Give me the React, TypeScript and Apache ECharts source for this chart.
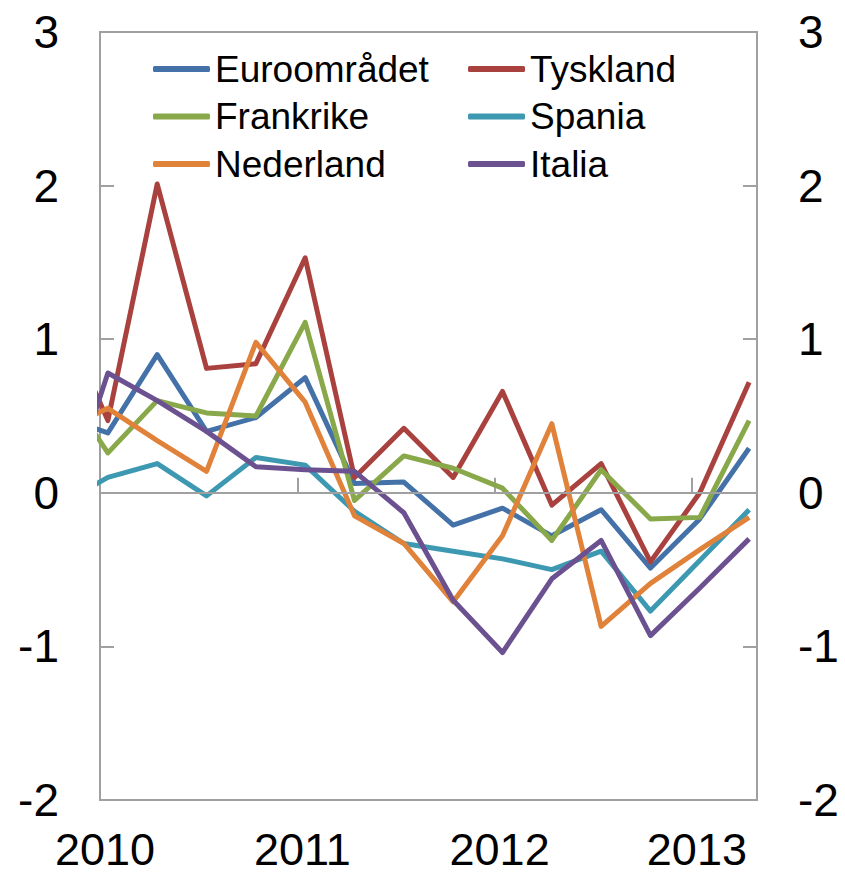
import React, { useEffect, useRef } from "react";
import * as echarts from "echarts";

// Quarters (K = kvartal). 2009K4 lies just left of the axis start and is clipped.
const quarters = [
  "2009K4",
  "2010K1", "2010K2", "2010K3", "2010K4",
  "2011K1", "2011K2", "2011K3", "2011K4",
  "2012K1", "2012K2", "2012K3", "2012K4",
  "2013K1", "2013K2",
];

const euroomradet = [0.5, 0.39, 0.9, 0.4, 0.49, 0.75, 0.06, 0.07, -0.21, -0.1, -0.28, -0.11, -0.49, -0.17, 0.29];
const tyskland = [1.2, 0.47, 2.01, 0.81, 0.84, 1.53, 0.1, 0.42, 0.1, 0.66, -0.08, 0.19, -0.45, 0.0, 0.72];
const frankrike = [0.74, 0.26, 0.6, 0.52, 0.5, 1.11, -0.05, 0.24, 0.16, 0.03, -0.31, 0.15, -0.17, -0.16, 0.47];
const spania = [-0.08, 0.1, 0.19, -0.02, 0.23, 0.18, -0.12, -0.33, -0.38, -0.43, -0.5, -0.38, -0.77, -0.44, -0.11];
const nederland = [0.4, 0.55, 0.34, 0.14, 0.98, 0.59, -0.15, -0.33, -0.71, -0.28, 0.45, -0.87, -0.59, -0.37, -0.16];
const italia = [-0.2, 0.78, 0.6, 0.4, 0.17, 0.15, 0.14, -0.13, -0.7, -1.04, -0.56, -0.31, -0.93, -0.62, -0.3];

const yearTicks = [2010, 2011, 2012, 2013];
const yTicks = [-2, -1, 0, 1, 2, 3];

const seriesNames = ["Euroområdet", "Tyskland", "Frankrike", "Spania", "Nederland", "Italia"];
const seriesValues = [euroomradet, tyskland, frankrike, spania, nederland, italia];
const seriesColors = ["#4472A8", "#A9423F", "#88A84A", "#3D99B2", "#E0823A", "#6C5191"];

const FONT = '"Liberation Sans", Arial, sans-serif';
const GRAY = "#a0a0a0";

// decimal-year position of each quarter's observation (mid-first-month of quarter)
function quarterPos(q: string): number {
  const year = Number(q.slice(0, 4));
  const k = Number(q.slice(5));
  return year + (k - 1) / 4 + 0.04;
}

export default function App() {
  const ref = useRef<HTMLDivElement>(null);

  useEffect(() => {
    if (!ref.current) return;
    const chart = echarts.init(ref.current, undefined, { renderer: "svg" });
    const xs = quarters.map(quarterPos);

    const yAxisBase = {
      type: "value" as const,
      min: yTicks[0],
      max: yTicks[yTicks.length - 1],
      interval: 1,
      splitLine: { show: false },
      axisLine: { show: true, lineStyle: { color: GRAY, width: 2 } },
      axisTick: { show: true, inside: true, length: 14, lineStyle: { color: GRAY, width: 2 } },
      axisLabel: { fontSize: 46, color: "#000", fontFamily: FONT, margin: 41 },
    };

    const legendBase = {
      orient: "vertical",
      top: 49,
      padding: 0,
      itemWidth: 57,
      itemHeight: 6,
      itemGap: 7.5,
      icon: "roundRect",
      itemStyle: { borderWidth: 0 },
      textStyle: { fontSize: 37, lineHeight: 40, color: "#000", fontFamily: FONT },
      selectedMode: false,
    };

    const option: any = {
      animation: false,
      backgroundColor: "#fff",
      grid: {
        left: 100,
        right: 88,
        top: 32,
        bottom: 76,
        show: true,
        borderColor: GRAY,
        borderWidth: 2,
        containLabel: false,
      },
      legend: [
        { ...legendBase, data: [seriesNames[0], seriesNames[2], seriesNames[4]], left: 153 },
        { ...legendBase, data: [seriesNames[1], seriesNames[3], seriesNames[5]], left: 468 },
      ],
      xAxis: {
        type: "value",
        min: yearTicks[0],
        max: 2013.33,
        interval: 1,
        splitLine: { show: false },
        axisLine: { show: true, lineStyle: { color: GRAY, width: 2 } },
        axisTick: {
          show: true,
          inside: true,
          length: 15,
          lineStyle: { color: GRAY, width: 2 },
        },
        axisLabel: {
          fontSize: 45,
          lineHeight: 43,
          color: "#000",
          fontFamily: FONT,
          margin: 28,
          padding: [0, 0, 0, 10],
          showMaxLabel: false,
          formatter: (v: number) => (yearTicks.includes(v) ? String(v) : ""),
        },
      },
      yAxis: [
        { ...yAxisBase, position: "left" },
        { ...yAxisBase, position: "right" },
      ],
      series: [
        {
          name: "_zero",
          type: "line",
          data: [],
          silent: true,
          markLine: {
            silent: true,
            symbol: ["none", "none"],
            label: { show: false },
            lineStyle: { color: GRAY, width: 2, type: "solid" },
            data: [{ yAxis: 0 }],
          },
        },
        ...seriesNames.map((name, i) => ({
          name,
          type: "line",
          data: seriesValues[i].map((v, j) => [xs[j], v]),
          showSymbol: false,
          symbol: "none",
          clip: true,
          color: seriesColors[i],
          itemStyle: { color: seriesColors[i] },
          lineStyle: { color: seriesColors[i], width: 5, join: "round" },
        })),
      ],
    };

    chart.setOption(option);
    return () => chart.dispose();
  }, []);

  return (
    <div
      ref={ref}
      style={{ position: "fixed", left: 0, top: 0, width: 845, height: 876, background: "#fff" }}
    />
  );
}
